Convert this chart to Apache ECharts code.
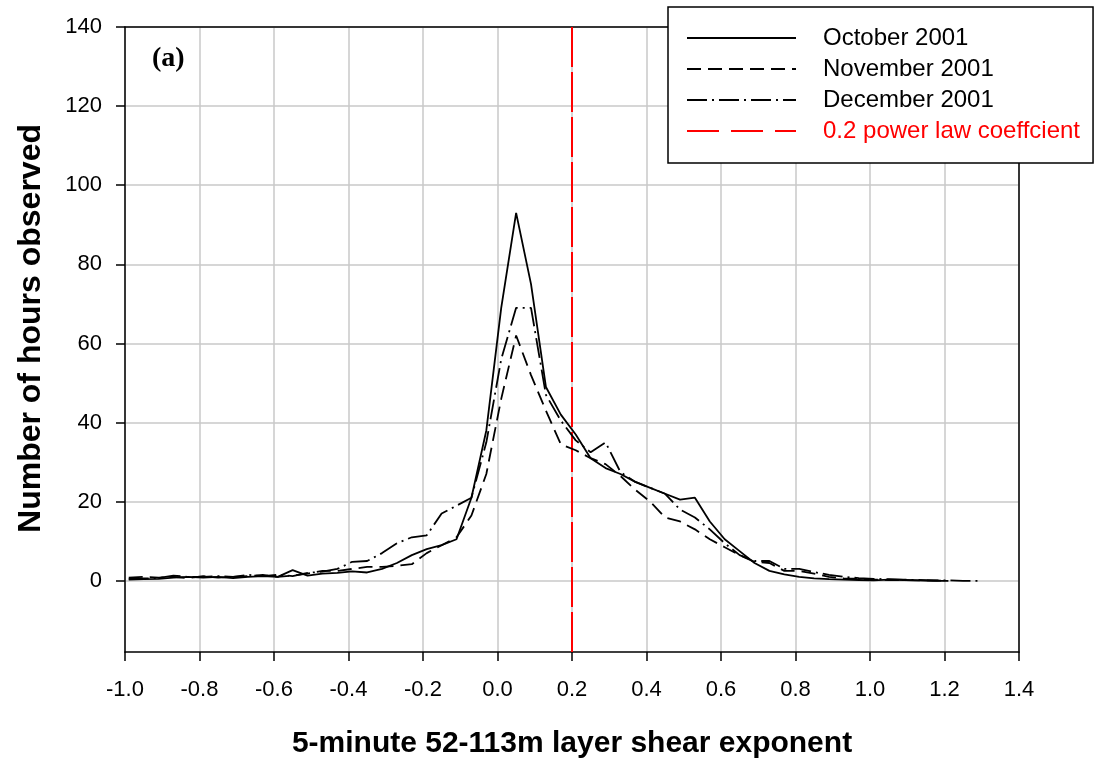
<!DOCTYPE html>
<html>
<head>
<meta charset="utf-8">
<script src="https://cdn.jsdelivr.net/npm/echarts@6/dist/echarts.min.js"></script>
<style>
  html, body { margin: 0; padding: 0; background: #fff; }
  #chart { width: 1105px; height: 761px; }
</style>
</head>
<body>
<div id="chart"></div>
<script>
// Bin centres of the shear exponent histogram
const shearExponent = [
  -0.99, -0.95, -0.91, -0.87, -0.83, -0.79, -0.75, -0.71, -0.67, -0.63,
  -0.59, -0.55, -0.51, -0.47, -0.43, -0.39, -0.35, -0.31, -0.27, -0.23,
  -0.19, -0.15, -0.11, -0.07, -0.03, 0.01, 0.05, 0.09, 0.13, 0.17,
  0.21, 0.25, 0.29, 0.33, 0.37, 0.41, 0.45, 0.49, 0.53, 0.57,
  0.61, 0.65, 0.69, 0.73, 0.77, 0.81, 0.85, 0.89, 0.93, 0.97,
  1.01, 1.05, 1.09, 1.13, 1.17, 1.21, 1.25, 1.29
];

// Hours observed per bin, one list per month
const october2001 = [
  0.3, 0.4, 0.5, 0.8, 1.0, 0.8, 1.0, 0.7, 1.0, 1.2,
  1.0, 2.7, 1.3, 1.8, 2.0, 2.4, 2.1, 3.0, 4.5, 6.5,
  8.0, 9.0, 10.5, 21, 38, 69, 93, 75, 49, 42,
  37, 31, 28.5, 27, 25, 23.5, 22, 20.5, 21, 15,
  10.5, 7.5, 4.5, 2.5, 1.6, 1.0, 0.6, 0.4, 0.3, 0.2,
  0.1, 0.3, 0.2, 0.1, 0, 0
];
const november2001 = [
  0.8, 1.0, 0.8, 1.0, 0.7, 1.2, 0.8, 1.0, 1.2, 1.5,
  1.0, 1.3, 1.8, 2.5, 2.5, 3.0, 3.5, 3.5, 3.8, 4.2,
  7.0, 9.0, 11, 16.5, 27, 46, 62, 52, 43, 34.5,
  33, 31, 29.5, 26.5, 23, 20, 16, 15, 13, 10.5,
  8.5, 6.5, 4.8, 4.5, 2.5, 2.5, 1.8, 1.0, 0.6, 0.5,
  0.3, 0.2, 0.2, 0.1, 0.1, 0
];
const december2001 = [
  0.5, 0.6, 0.7, 1.3, 1.0, 1.0, 1.2, 1.0, 1.5, 1.2,
  1.5, 1.2, 2.0, 2.3, 3.0, 4.8, 5.0, 7.0, 9.5, 11,
  11.5, 17, 19, 21, 35, 56, 69, 69, 47, 40.5,
  35.5, 32.5, 35, 27.5, 25, 23.5, 22, 18, 16, 13,
  9.5, 6.5, 5.0, 5.0, 3.0, 3.0, 2.2, 1.5, 1.0, 0.7,
  0.5, 0.4, 0.3, 0.2, 0.1, 0.1, 0, 0
];

// Reference power-law coefficient and axis ranges
const powerLawCoefficient = 0.2;
const xRange = [-1.0, 1.4];
const yRange = [-18, 140];
const yTicks = [0, 20, 40, 60, 80, 100, 120, 140];

const seriesNames = ['October 2001', 'November 2001', 'December 2001', '0.2 power law coeffcient'];

function pairs(xs, ys) {
  return ys.map((y, i) => [xs[i], y]);
}

const fontSans = '"Liberation Sans", Arial, Helvetica, sans-serif';
const black = '#000000';
const gridGray = '#c8c8c8';

const chart = echarts.init(document.getElementById('chart'), null, { renderer: 'canvas' });

const hiddenFrameAxis = {
  type: 'value',
  axisLine: { show: true, onZero: false, lineStyle: { color: black, width: 1.5 } },
  axisTick: { show: false },
  axisLabel: { show: false },
  splitLine: { show: false }
};

chart.setOption({
  animation: false,
  backgroundColor: '#ffffff',
  grid: { left: 125, right: 86, top: 27, bottom: 109, containLabel: false, outerBoundsMode: 'none' },
  xAxis: [
    {
      type: 'value',
      min: xRange[0],
      max: xRange[1],
      interval: 0.2,
      position: 'bottom',
      name: '5-minute 52-113m layer shear exponent',
      nameLocation: 'middle',
      nameGap: 77,
      nameTextStyle: { fontFamily: fontSans, fontSize: 30, fontWeight: 'bold', color: black },
      axisLine: { show: true, onZero: false, lineStyle: { color: black, width: 1.5 } },
      axisTick: { show: true, inside: false, length: 9, lineStyle: { color: black, width: 1.5 } },
      axisLabel: {
        margin: 27,
        fontFamily: fontSans,
        fontSize: 22,
        color: black,
        formatter: v => v.toFixed(1)
      },
      splitLine: { show: true, lineStyle: { color: gridGray, width: 1.5 } }
    },
    Object.assign({ min: xRange[0], max: xRange[1], position: 'top' }, hiddenFrameAxis)
  ],
  yAxis: [
    {
      type: 'value',
      min: yRange[0],
      max: yRange[1],
      position: 'left',
      name: 'Number of hours observed',
      nameLocation: 'middle',
      nameGap: 78,
      nameTextStyle: {
        fontFamily: fontSans, fontSize: 32, fontWeight: 'bold', color: black,
        padding: [0, 0, 0, 22]
      },
      axisLine: { show: true, onZero: false, lineStyle: { color: black, width: 1.5 } },
      axisTick: { show: true, inside: false, length: 9, customValues: yTicks, lineStyle: { color: black, width: 1.5 } },
      axisLabel: {
        customValues: yTicks,
        margin: 23,
        fontFamily: fontSans,
        fontSize: 22,
        color: black
      },
      splitLine: { show: true, lineStyle: { color: gridGray, width: 1.5 } }
    },
    Object.assign({ min: yRange[0], max: yRange[1], position: 'right' }, hiddenFrameAxis)
  ],
  legend: {
    orient: 'vertical',
    left: 668,
    top: 7,
    padding: [19, 13, 20, 18],
    itemWidth: 109,
    itemHeight: 14,
    itemGap: 7,
    backgroundColor: '#ffffff',
    borderColor: black,
    borderWidth: 1.5,
    borderRadius: 0,
    selectedMode: false,
    itemStyle: { opacity: 0 },
    textStyle: { fontFamily: fontSans, fontSize: 24, lineHeight: 24, color: black, padding: [0, 0, 0, 22] },
    data: [
      { name: seriesNames[0] },
      { name: seriesNames[1] },
      { name: seriesNames[2] },
      { name: seriesNames[3], textStyle: { color: '#ff0000' }, lineStyle: { type: [32, 12] } }
    ],
    z: 10
  },
  graphic: [
    {
      type: 'text',
      left: 152,
      top: 45,
      z: 20,
      style: { text: '(a)', font: 'bold 28px "Liberation Serif", "Times New Roman", serif', fill: black }
    }
  ],
  series: [
    {
      name: seriesNames[3],
      type: 'line',
      symbol: 'none',
      data: [[powerLawCoefficient, yRange[0]], [powerLawCoefficient, yRange[1]]],
      lineStyle: { color: '#ff0000', width: 2, type: [40, 5] },
      itemStyle: { color: '#ff0000' },
      z: 3
    },
    {
      name: seriesNames[0],
      type: 'line',
      symbol: 'none',
      data: pairs(shearExponent, october2001),
      lineStyle: { color: black, width: 1.8, type: 'solid' },
      itemStyle: { color: black },
      z: 4
    },
    {
      name: seriesNames[1],
      type: 'line',
      symbol: 'none',
      data: pairs(shearExponent, november2001),
      lineStyle: { color: black, width: 1.8, type: [14, 7] },
      itemStyle: { color: black },
      z: 4
    },
    {
      name: seriesNames[2],
      type: 'line',
      symbol: 'none',
      data: pairs(shearExponent, december2001),
      lineStyle: { color: black, width: 1.8, type: [20, 5, 2, 5] },
      itemStyle: { color: black },
      z: 4
    }
  ]
});
</script>
</body>
</html>
